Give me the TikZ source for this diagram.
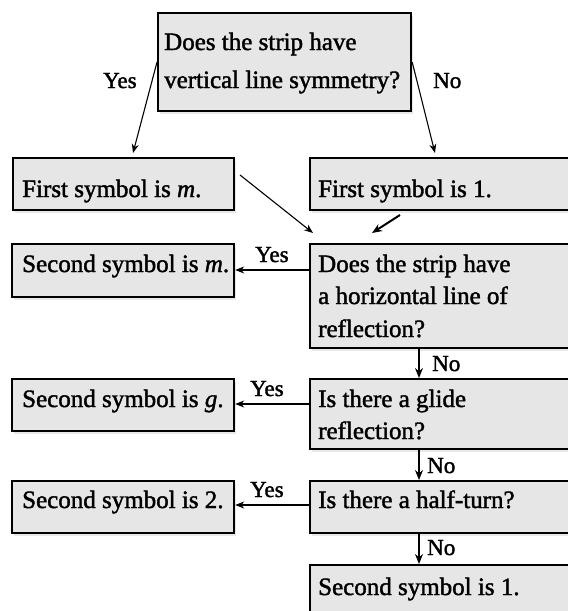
\documentclass[tikz,border=0pt]{standalone}
\usepackage{fontspec}
\setmainfont{Liberation Serif}
\font\tf="Liberation Serif:embolden=1.6" at 25pt
\font\tfi="Liberation Serif/I:embolden=1.6" at 25pt
\font\lf="Liberation Serif:embolden=1.6" at 23pt
\usetikzlibrary{shadows,arrows.meta}
\definecolor{boxfill}{RGB}{230,230,230}
\tikzset{
  x=1pt,y=-1pt,
  box/.style={draw=black,line width=2.2pt,fill=boxfill,anchor=north west,inner sep=0pt,
    drop shadow={opacity=0.18,shadow xshift=2pt,shadow yshift=-3pt}},
  txt/.style={anchor=base west,inner sep=0pt,font=\tf},
  lbl/.style={anchor=base west,inner sep=0pt,font=\lf},
  arr/.style={line width=1.1pt,-{Stealth[length=9pt,width=7pt]}},
  arrb/.style={line width=2pt,-{Stealth[length=10pt,width=8pt]}}
}
\begin{document}
\begin{tikzpicture}
\useasboundingbox (0,0) rectangle (568,611);
% boxes
\node[box,minimum width=253pt,minimum height=98pt] (q1) at (157,12) {};
\node[box,minimum width=221pt,minimum height=52pt] (m1) at (12,157) {};
\node[box,minimum width=270pt,minimum height=52pt] (one) at (309,157) {};
\node[box,minimum width=222pt,minimum height=53pt] (sm) at (11,243) {};
\node[box,minimum width=270pt,minimum height=104pt] (qh) at (309,243) {};
\node[box,minimum width=222pt,minimum height=52pt] (sg) at (11,378) {};
\node[box,minimum width=270pt,minimum height=70pt] (qg) at (309,378) {};
\node[box,minimum width=222pt,minimum height=52pt] (s2) at (11,480) {};
\node[box,minimum width=270pt,minimum height=52pt] (qt) at (309,480) {};
\node[box,minimum width=270pt,minimum height=60pt] (s1) at (309,564) {};
% texts
\node[txt] (t1a) at (164,50) {Does the strip have};
\node[txt] (t1b) at (164,88) {vertical line symmetry?};
\node[txt] (tm1) at (22,197) {First symbol is {\tfi m}.};
\node[txt] (tone) at (318,197) {First symbol is 1.};
\node[txt] (tsm) at (22,272) {Second symbol is {\tfi m}.};
\node[txt] (tqh1) at (318,272) {Does the strip have};
\node[txt] (tqh2) at (318,304) {a horizontal line of};
\node[txt] (tqh3) at (318,337) {reflection?};
\node[txt] (tsg) at (22,407) {Second symbol is {\tfi g}.};
\node[txt] (tqg1) at (318,407) {Is there a glide};
\node[txt] (tqg2) at (318,439) {reflection?};
\node[txt] (ts2) at (22,508) {Second symbol is 2.};
\node[txt] (tqt) at (318,508) {Is there a half-turn?};
\node[txt] (ts1) at (318,595) {Second symbol is 1.};
% labels
\node[lbl] (yes1) at (103,88) {Yes};
\node[lbl] (no1) at (433,88) {No};
\node[lbl] (yes2) at (255,262) {Yes};
\node[lbl] (no2) at (432,371) {No};
\node[lbl] (yes3) at (250,396) {Yes};
\node[lbl] (no3) at (427,473) {No};
\node[lbl] (yes4) at (250,497) {Yes};
\node[lbl] (no4) at (427,555) {No};
% connector end points
\coordinate (a1) at (133,153);
\coordinate (a2) at (435,153);
\coordinate (m1r) at (240,175);
\coordinate (a3) at (313,233);
\coordinate (oneb) at (400,215);
\coordinate (a4) at (372,233);
% connectors
\draw[arr] (q1.west) -- (a1);
\draw[arr] (q1.east) -- (a2);
\draw[arr] (m1r) -- (a3);
\draw[arrb] (oneb) -- (a4);
\draw[arr] (qh.west |- 0,270) -- (sm.east |- 0,270);
\draw[arr] (qg.west |- 0,404) -- (sg.east |- 0,404);
\draw[arr] (qt.west |- 0,505) -- (s2.east |- 0,505);
\draw[arrb] (419,0 |- qh.south) -- (419,0 |- qg.north);
\draw[arrb] (419,0 |- qg.south) -- (419,0 |- qt.north);
\draw[arrb] (419,0 |- qt.south) -- (419,0 |- s1.north);
\end{tikzpicture}
\end{document}
